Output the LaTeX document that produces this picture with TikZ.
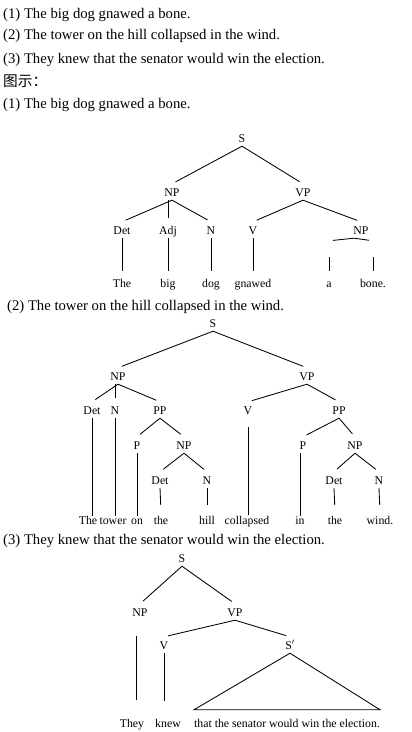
\documentclass[tikz,border=0pt]{standalone}
\usepackage{fontspec}
\setmainfont{Liberation Serif}
\newfontfamily\cjkfont{Noto Sans CJK SC}
\usetikzlibrary{positioning}

\begin{document}
\begin{tikzpicture}[
x=1pt, y=-1pt,
head/.style={
anchor=base west,
inner sep=0pt,
font=\fontsize{14.7}{17}\selectfont
},
lab/.style={
inner xsep=0pt,
inner ysep=4pt,
text height=8pt,
text depth=0pt,
font=\fontsize{11.8}{13}\selectfont
},
edge/.style={
line width=0.85pt,
shorten >=4pt
}
]
\useasboundingbox (0,0) rectangle (412,732);

% sentences
\node[head] (h1) at (3,18.5) {(1) The big dog gnawed a bone.};
\node[head] (h2) at (3,39.5) {(2) The tower on the hill collapsed in the wind.};
\node[head] (h3) at (3,63.5) {(3) They knew that the senator would win the election.};
\node[head] (h4) at (3,86.5) {\cjkfont 图示：};
\node[head] (h5) at (3,108.5) {(1) The big dog gnawed a bone.};

% tree (1)
\node[lab] (s1) at (242,138) {S};
\node[lab] (np1) at (172,192) {NP};
\node[lab] (vp1) at (303,192) {VP};
\node[lab] (det1) at (122,230) {Det};
\node[lab] (adj1) at (168,230) {Adj};
\node[lab] (n1) at (211,230) {N};
\node[lab] (v1) at (253,230) {V};
\node[lab] (npb1) at (361,230) {NP};
\node[lab] (da1) at (329,249) {};
\node[lab] (dn1) at (373,249) {};
\node[lab] (w1the) at (122,283) {The};
\node[lab] (w1big) at (168,283) {big};
\node[lab] (w1dog) at (211,283) {dog};
\node[lab] (w1gnawed) at (253,283) {gnawed};
\node[lab] (w1a) at (329,283) {a};
\node[lab] (w1bone) at (373,283) {bone.};

\draw[edge] (s1.south) -- (np1.north);
\draw[edge] (s1.south) -- (vp1.north);
\draw[edge] (np1.south) -- (det1.north);
\draw[edge] (adj1.north |- np1.south) -- (adj1.north);
\draw[edge] (np1.south) -- (n1.north);
\draw[edge] (vp1.south) -- (v1.north);
\draw[edge] (vp1.south) -- (npb1.north);
\draw[edge] ([xshift=-7pt]npb1.south) -- (da1.north);
\draw[edge] ([xshift=-7pt]npb1.south) -- (dn1.north);
\draw[edge] (det1.south) -- (w1the.north);
\draw[edge] (adj1.south) -- (w1big.north);
\draw[edge] (n1.south) -- (w1dog.north);
\draw[edge] (v1.south) -- (w1gnawed.north);
\draw[edge] (da1.south) -- (w1a.north);
\draw[edge] (dn1.south) -- (w1bone.north);

% tree (2)
\node[head] (h6) at (7,310.5) {(2) The tower on the hill collapsed in the wind.};
\node[lab] (s2) at (213,323) {S};
\node[lab] (np2) at (118,376) {NP};
\node[lab] (vp2) at (307,376) {VP};
\node[lab] (det2) at (92,410) {Det};
\node[lab] (n2) at (115,410) {N};
\node[lab] (pp2) at (160,410) {PP};
\node[lab] (p2) at (137,445) {P};
\node[lab] (npc2) at (184,445) {NP};
\node[lab] (detc2) at (160,480) {Det};
\node[lab] (nc2) at (207,480) {N};
\node[lab] (v2) at (248,410) {V};
\node[lab] (ppd2) at (339,410) {PP};
\node[lab] (pd2) at (303,445) {P};
\node[lab] (npd2) at (355,445) {NP};
\node[lab] (detd2) at (334,480) {Det};
\node[lab] (nd2) at (379,480) {N};
\node[lab] (w2the) at (88,520) {The};
\node[lab] (w2tower) at (113,520) {tower};
\node[lab] (w2on) at (137,520) {on};
\node[lab] (w2thec) at (161,520) {the};
\node[lab] (w2hill) at (207,520) {hill};
\node[lab] (w2coll) at (247,520) {collapsed};
\node[lab] (w2in) at (300,520) {in};
\node[lab] (w2thed) at (335,520) {the};
\node[lab] (w2wind) at (380,520) {wind.};

\draw[edge] (s2.south) -- (np2.north);
\draw[edge] (s2.south) -- (vp2.north);
\draw[edge] (np2.south) -- (det2.north);
\draw[edge] (n2.north |- np2.south) -- (n2.north);
\draw[edge] (np2.south) -- (pp2.north);
\draw[edge] (pp2.south) -- (p2.north);
\draw[edge] (pp2.south) -- (npc2.north);
\draw[edge] (npc2.south) -- (detc2.north);
\draw[edge] (npc2.south) -- (nc2.north);
\draw[edge] (vp2.south) -- (v2.north);
\draw[edge] (vp2.south) -- (ppd2.north);
\draw[edge] (ppd2.south) -- (pd2.north);
\draw[edge] (ppd2.south) -- (npd2.north);
\draw[edge] (npd2.south) -- (detd2.north);
\draw[edge] (npd2.south) -- (nd2.north);
\draw[edge, shorten >=-4pt] (det2.south) -- (det2.south |- w2the.north);
\draw[edge, shorten >=-4pt] (n2.south) -- (n2.south |- w2tower.north);
\draw[edge, shorten >=-4pt] (p2.south) -- (p2.south |- w2on.north);
\draw[edge, shorten >=7pt] (detc2.south) -- (w2thec.north);
\draw[edge, shorten >=7pt] (nc2.south) -- (w2hill.north);
\draw[edge, shorten <=9pt, shorten >=-3pt] (v2.south) -- (v2.south |- w2coll.north);
\draw[edge, shorten >=-4pt] (w2in.north |- pd2.south) -- (w2in.north);
\draw[edge, shorten >=7pt] (detd2.south) -- (w2thed.north);
\draw[edge, shorten >=7pt] (nd2.south) -- (w2wind.north);

% tree (3)
\node[head] (h7) at (3,544.5) {(3) They knew that the senator would win the election.};
\node[lab] (s3) at (182,558) {S};
\node[lab] (np3) at (140,612) {NP};
\node[lab] (vp3) at (235,612) {VP};
\node[lab] (v3) at (164,645) {V};
\node[lab] (sb3) at (290,645) {S$'$};
\node[lab] (w3they) at (132,723) {They};
\node[lab] (w3knew) at (168,723) {knew};
\node[lab] (w3phr) at (287,723) {that the senator would win the election.};

\draw[edge] (s3.south) -- (np3.north);
\draw[edge] (s3.south) -- (vp3.north);
\draw[edge] (vp3.south) -- (v3.north);
\draw[edge] (vp3.south) -- (sb3.north);
\draw[edge, shorten <=16pt, shorten >=15pt] ([xshift=-4pt]np3.south) -- ([xshift=-4pt]np3.south |- w3they.north);
\draw[edge, shorten >=14pt] (v3.south) -- (v3.south |- w3knew.north);
\draw[line width=0.85pt] (sb3.south) -- ([yshift=5pt]w3phr.north west) -- ([yshift=5pt]w3phr.north east) -- cycle;

\end{tikzpicture}
\end{document}
